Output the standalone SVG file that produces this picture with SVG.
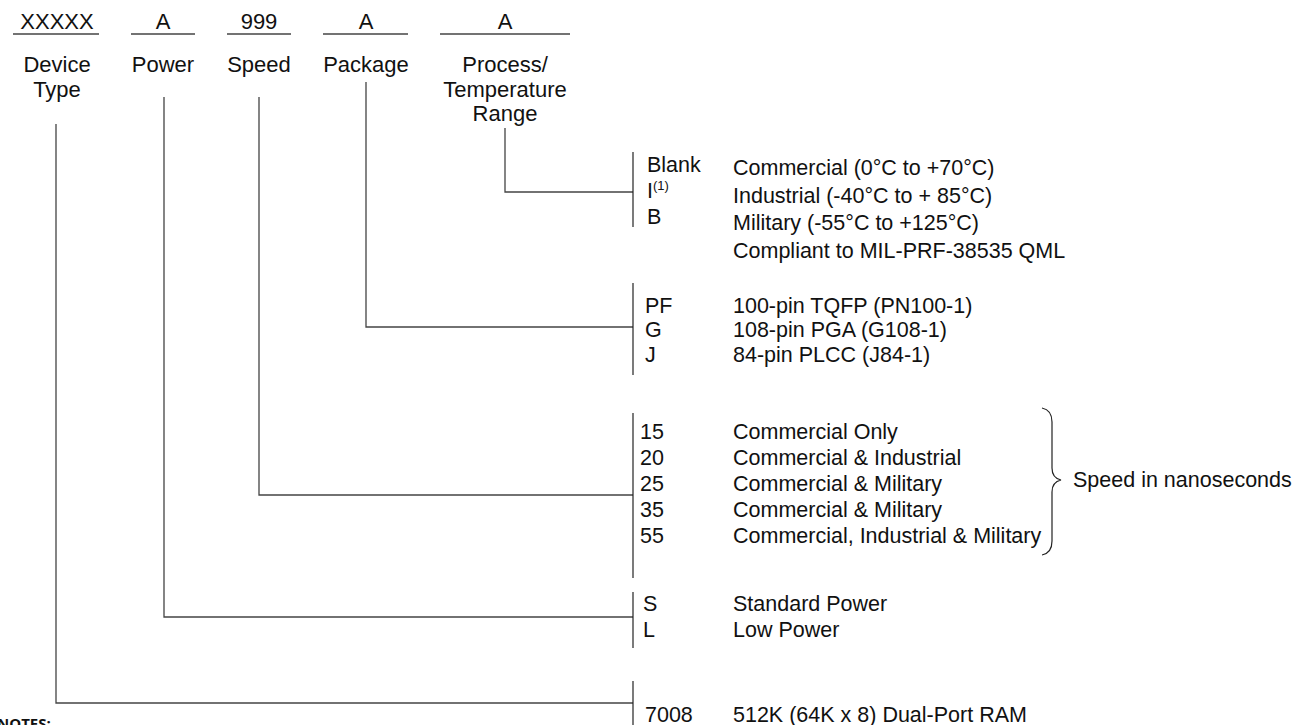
<svg xmlns="http://www.w3.org/2000/svg" width="1300" height="725" viewBox="0 0 1300 725">
<style>
text{font-family:"Liberation Sans",Arial,sans-serif;font-size:22px;fill:#111}
.o{font-size:21.5px}
.c{text-anchor:middle}
.ln{stroke:#444;stroke-width:1.3;fill:none}
.bar{stroke:#222;stroke-width:1.2;fill:none}
.sup{font-size:13px}
.notes{font-family:"Open Sans","Liberation Sans",sans-serif;font-weight:bold;font-size:15px}
</style>
<rect width="1300" height="725" fill="#fff"/>
<g id="fields">
<g id="device-type">
<text class="c" x="57" y="29">XXXXX</text>
<line class="ln" x1="13" y1="34" x2="99" y2="34"/>
<text class="c" x="57" y="72">Device</text>
<text class="c" x="57" y="97">Type</text>
</g>
<g id="power">
<text class="c" x="163" y="29">A</text>
<line class="ln" x1="131" y1="34" x2="195" y2="34"/>
<text class="c" x="163" y="72">Power</text>
</g>
<g id="speed">
<text class="c" x="259" y="29">999</text>
<line class="ln" x1="227" y1="34" x2="291" y2="34"/>
<text class="c" x="259" y="72">Speed</text>
</g>
<g id="package">
<text class="c" x="366" y="29">A</text>
<line class="ln" x1="323" y1="34" x2="408" y2="34"/>
<text class="c" x="366" y="72">Package</text>
</g>
<g id="process">
<text class="c" x="505" y="29">A</text>
<line class="ln" x1="440" y1="34" x2="570" y2="34"/>
<text class="c" x="505" y="72">Process/</text>
<text class="c" x="505" y="97">Temperature</text>
<text class="c" x="505" y="121">Range</text>
</g>
</g>
<g id="connectors">
<polyline class="ln" points="505,128 505,192 633,192"/>
<polyline class="ln" points="366,82 366,327 633,327"/>
<polyline class="ln" points="259,97 259,495 633,495"/>
<polyline class="ln" points="164,97 164,617 633,617"/>
<polyline class="ln" points="56,124 56,703 633,703"/>
</g>
<g id="process-options">
<line class="bar" x1="633" y1="152" x2="633" y2="227"/>
<text class="o" x="647" y="172">Blank</text>
<text class="o" x="647" y="198">I<tspan class="sup" dy="-8">(1)</tspan></text>
<text class="o" x="647" y="224">B</text>
<text class="o" x="733" y="175">Commercial (0°C to +70°C)</text>
<text class="o" x="733" y="203">Industrial (-40°C to + 85°C)</text>
<text class="o" x="733" y="230">Military (-55°C to +125°C)</text>
<text class="o" x="733" y="258">Compliant to MIL-PRF-38535 QML</text>
</g>
<g id="package-options">
<line class="bar" x1="633" y1="283" x2="633" y2="375"/>
<text class="o" x="645" y="313">PF</text>
<text class="o" x="645" y="337">G</text>
<text class="o" x="645" y="362">J</text>
<text class="o" x="733" y="313">100-pin TQFP (PN100-1)</text>
<text class="o" x="733" y="337">108-pin PGA (G108-1)</text>
<text class="o" x="733" y="362">84-pin PLCC (J84-1)</text>
</g>
<g id="speed-options">
<line class="bar" x1="633" y1="413" x2="633" y2="578"/>
<text class="o" x="640" y="439">15</text>
<text class="o" x="640" y="465">20</text>
<text class="o" x="640" y="491">25</text>
<text class="o" x="640" y="517">35</text>
<text class="o" x="640" y="543">55</text>
<text class="o" x="733" y="439">Commercial Only</text>
<text class="o" x="733" y="465">Commercial &amp; Industrial</text>
<text class="o" x="733" y="491">Commercial &amp; Military</text>
<text class="o" x="733" y="517">Commercial &amp; Military</text>
<text class="o" x="733" y="543">Commercial, Industrial &amp; Military</text>
<path class="bar" d="M1042,408 Q1052,410 1052,422 L1052,468 Q1052,478 1061,480 Q1052,482 1052,492 L1052,541 Q1052,553 1042,555"/>
<text class="o" x="1073" y="487">Speed in nanoseconds</text>
</g>
<g id="power-options">
<line class="bar" x1="633" y1="592" x2="633" y2="648"/>
<text class="o" x="643" y="611">S</text>
<text class="o" x="643" y="637">L</text>
<text class="o" x="733" y="611">Standard Power</text>
<text class="o" x="733" y="637">Low Power</text>
</g>
<g id="device-options">
<line class="bar" x1="633" y1="681" x2="633" y2="725"/>
<text class="o" x="645" y="722">7008</text>
<text class="o" x="733" y="722">512K (64K x 8) Dual-Port RAM</text>
</g>
<text class="notes" x="-3" y="729">NOTES:</text>
</svg>
